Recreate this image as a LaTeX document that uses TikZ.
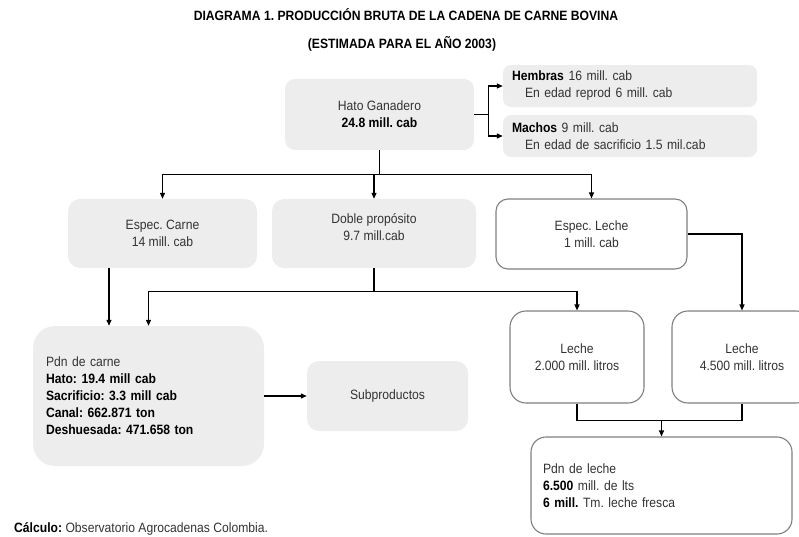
\documentclass[tikz,border=0pt]{standalone}
\usepackage{fontspec}
\setmainfont{Liberation Sans}[FakeStretch=0.9]
\usetikzlibrary{arrows.meta}
\definecolor{boxgray}{HTML}{EDEDED}
\definecolor{edgegray}{HTML}{7F7F7F}
\definecolor{txt}{HTML}{333333}
\newcommand\bk[1]{\textcolor{black}{\textbf{#1}}}
\tikzset{
  base/.style={font=\fontsize{13.5}{17}\selectfont\frenchspacing, text=txt, inner sep=0pt, align=center},
  graybox/.style={base, fill=boxgray, draw=none, rounded corners=10pt},
  whitebox/.style={base, fill=white, draw=edgegray, line width=1.1pt, rounded corners=13pt},
  conn/.style={line width=1.2pt, draw=black},
  arr/.style={conn, -{Triangle[length=6pt,width=5pt]}},
}
\begin{document}
\frenchspacing
\begin{tikzpicture}[x=1pt,y=-1pt]
\useasboundingbox (0,0) rectangle (799,536);
\clip (0,0) rectangle (799,536);
% title
\node[base, text=black, font=\fontsize{13.5}{17}\selectfont\bfseries\frenchspacing] (t1) at (406,15) {DIAGRAMA 1. PRODUCCIÓN BRUTA DE LA CADENA DE CARNE BOVINA};
\node[base, text=black, font=\fontsize{13.5}{17}\selectfont\bfseries\frenchspacing] (t2) at (402,44) {(ESTIMADA PARA EL AÑO 2003)};
% boxes
\node[graybox, minimum width=189pt, minimum height=71pt] (hato) at (379.5,114.5) {Hato Ganadero\\\bk{24.8 mill. cab}};
\node[graybox, rounded corners=8pt, inner xsep=9pt, text width=236pt, minimum height=42pt, align=left] (hembras) at (630,86) {\bk{Hembras} 16 mill. cab\\\hspace*{13pt}En edad reprod 6 mill. cab};
\node[graybox, rounded corners=8pt, inner xsep=9pt, text width=236pt, minimum height=42pt, align=left] (machos) at (630,136) {\bk{Machos} 9 mill. cab\\\hspace*{13pt}En edad de sacrificio 1.5 mil.cab};
\node[graybox, rounded corners=12pt, minimum width=189pt, minimum height=69pt] (carne) at (162.5,233.5) {Espec. Carne\\14 mill. cab};
\node[graybox, rounded corners=12pt, minimum width=204pt, minimum height=69pt] (doble) at (374,233.5) {};
\node[base] (dobletxt) at ([yshift=6.5pt]doble.center) {Doble propósito\\9.7 mill.cab};
\node[whitebox, rounded corners=12pt, minimum width=191pt, minimum height=70pt] (lecheesp) at (591.5,234) {Espec. Leche\\1 mill. cab};
\node[graybox, rounded corners=22pt, inner xsep=13pt, text width=205pt, minimum height=140pt, align=left] (pdncarne) at (148.5,396) {Pdn de carne\\\bk{Hato: 19.4 mill cab}\\\bk{Sacrificio: 3.3 mill cab}\\\bk{Canal: 662.871 ton}\\\bk{Deshuesada: 471.658 ton}};
\node[graybox, rounded corners=12pt, minimum width=161pt, minimum height=70pt] (subprod) at (387.5,396) {Subproductos};
\node[whitebox, rounded corners=16pt, minimum width=134pt, minimum height=92pt] (leche1) at (577,357) {Leche\\2.000 mill. litros};
\node[whitebox, rounded corners=16pt, minimum width=140pt, minimum height=92pt] (leche2) at (742,357) {Leche\\4.500 mill. litros};
\node[whitebox, rounded corners=15pt, inner xsep=12pt, text width=237pt, minimum height=97pt, align=left] (pdnleche) at (661.5,485.5) {Pdn de leche\\\bk{6.500} mill. de lts\\\bk{6 mill.} Tm. leche fresca};
% footer
\node[base, anchor=west, text=txt] (foot) at (14,529) {\bk{Cálculo:} Observatorio Agrocadenas Colombia.};
% connectors
\draw[conn] (hato.east) -- ++(14,0) coordinate (j1);
\draw[arr] (j1) |- (hembras.west);
\draw[arr] (j1) |- (machos.west);
\draw[conn] (hato.south) -- ++(0,24) coordinate (bus1);
\draw[arr] (bus1) -| (carne.north);
\draw[arr] (bus1) -| (lecheesp.north);
\draw[arr] (doble.north |- bus1) -- (doble.north);
\draw[arr] ([xshift=-53.5pt]carne.south) -- ([xshift=-53.5pt]carne.south |- pdncarne.north);
\draw[conn] (doble.south) -- ++(0,23) coordinate (bus2);
\draw[arr] (bus2) -| (pdncarne.north);
\draw[arr] (bus2) -| (leche1.north);
\draw[arr] (lecheesp.east) -| (leche2.north);
\draw[conn] (leche1.south) -- ++(0,17) -| (leche2.south);
\draw[arr] ([yshift=-17pt]pdnleche.north |- leche1.south) -- (pdnleche.north);
\draw[arr] (pdncarne.east) -- (subprod.west);
\end{tikzpicture}
\end{document}
